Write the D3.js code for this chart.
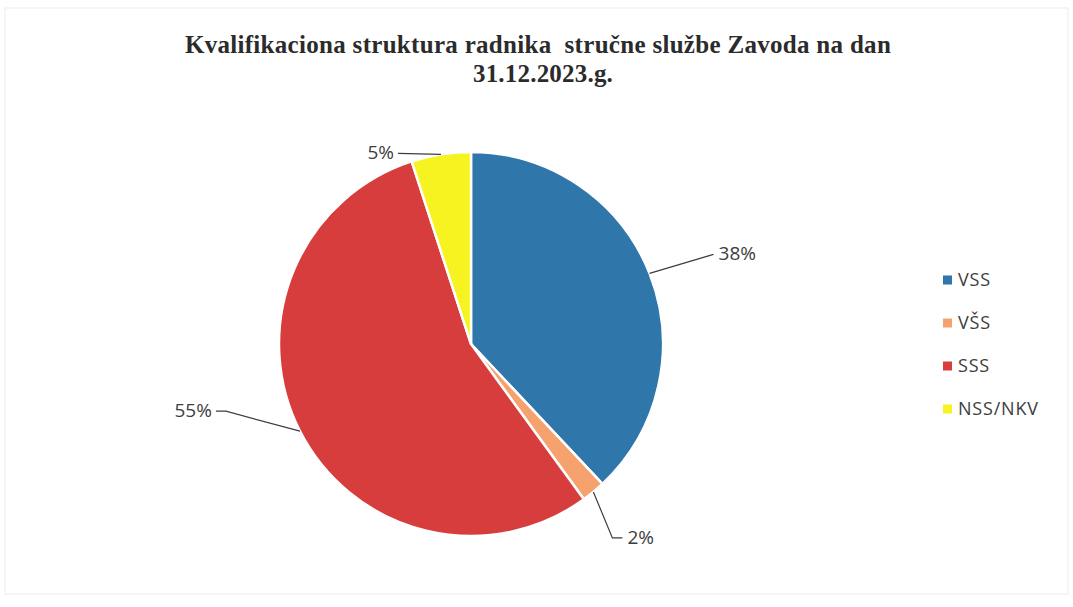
<!DOCTYPE html>
<html lang="sr">
<head>
    <meta charset="UTF-8">
    <title>Kvalifikaciona struktura</title>
    <script src="https://d3js.org/d3.v7.min.js"></script>
    <style>
        body { margin: 0; background: #fff; }
        svg { display: block; }
        .title { font-family: "Liberation Serif", "Times New Roman", serif; font-weight: bold; font-size: 25px; fill: #2b2b2b; white-space: pre; }
        .lbl { font-family: "Open Sans", sans-serif; font-size: 19px; fill: #3d3d3d; }
        .leg { font-family: "Open Sans", sans-serif; font-size: 18px; fill: #3d3d3d; letter-spacing: 0.8px; }
    </style>
</head>
<body>
    <svg id="chart"></svg>
    <script>
        // podaci
        const categories = ['VSS', 'VŠS', 'SSS', 'NSS/NKV'];
        const values = [38, 2, 55, 5];
        const colors = ['#2f76ab', '#f6a26f', '#d73d3c', '#f7f320'];
        const titleLines = ['Kvalifikaciona struktura radnika  stručne službe Zavoda na dan', '31.12.2023.g.'];

        const width = 1073, height = 607;
        const cx = 471, cy = 344, radius = 192;

        // pomaci za oznake (od tacke na luku)
        const labelOffsets = [
            { dx: 64, dy: -19, tail: 0, anchor: 'start' },
            { dx: 19, dy: 46, tail: 10, anchor: 'start' },
            { dx: -74, dy: -20, tail: -10, anchor: 'end' },
            { dx: -43, dy: -1, tail: 0, anchor: 'end' }
        ];

        const svg = d3.select('#chart')
            .attr('width', width)
            .attr('height', height);

        svg.append('rect')
            .attr('x', 5).attr('y', 8)
            .attr('width', 1063).attr('height', 586)
            .attr('fill', '#fff')
            .attr('stroke', '#ececec');

        svg.selectAll('text.title')
            .data(titleLines)
            .enter().append('text')
            .attr('class', 'title')
            .attr('x', (d, i) => i === 0 ? 538 : 543)
            .attr('y', (d, i) => 53 + i * 29)
            .attr('text-anchor', 'middle')
            .style('letter-spacing', (d, i) => i === 0 ? '0.3px' : '0.2px')
            .text(d => d);

        const data = categories.map((c, i) => ({ name: c, value: values[i], color: colors[i] }));

        const pie = d3.pie().sort(null).value(d => d.value);
        const arcs = pie(data);
        const arc = d3.arc().innerRadius(0).outerRadius(radius);

        const g = svg.append('g').attr('transform', `translate(${cx},${cy})`);

        g.selectAll('path')
            .data(arcs)
            .enter().append('path')
            .attr('d', arc)
            .attr('fill', d => d.data.color)
            .attr('stroke', '#fff')
            .attr('stroke-width', 2.5);

        const total = d3.sum(values);

        arcs.forEach((a, i) => {
            const mid = (a.startAngle + a.endAngle) / 2;
            const px = radius * Math.sin(mid);
            const py = -radius * Math.cos(mid);
            const o = labelOffsets[i];
            const ex = px + o.dx, ey = py + o.dy;
            const tx = ex + o.tail;
            g.append('polyline')
                .attr('points', `${px},${py} ${ex},${ey} ${tx},${ey}`)
                .attr('fill', 'none')
                .attr('stroke', '#3d3d3d')
                .attr('stroke-width', 1.2);
            g.append('text')
                .attr('class', 'lbl')
                .attr('x', tx + (o.anchor === 'start' ? 5 : -4))
                .attr('y', ey)
                .attr('dy', '0.3em')
                .attr('text-anchor', o.anchor)
                .text(Math.round(a.data.value / total * 100) + '%');
        });

        const legend = svg.append('g').attr('transform', 'translate(943,280)');
        const rows = legend.selectAll('g')
            .data(data)
            .enter().append('g')
            .attr('transform', (d, i) => `translate(0,${i * 43})`);
        rows.append('rect')
            .attr('x', 0).attr('y', -4.5)
            .attr('width', 9).attr('height', 9)
            .attr('fill', d => d.color);
        rows.append('text')
            .attr('class', 'leg')
            .attr('x', 15)
            .attr('y', 0)
            .attr('dy', '0.35em')
            .text(d => d.name);
    </script>
</body>
</html>
